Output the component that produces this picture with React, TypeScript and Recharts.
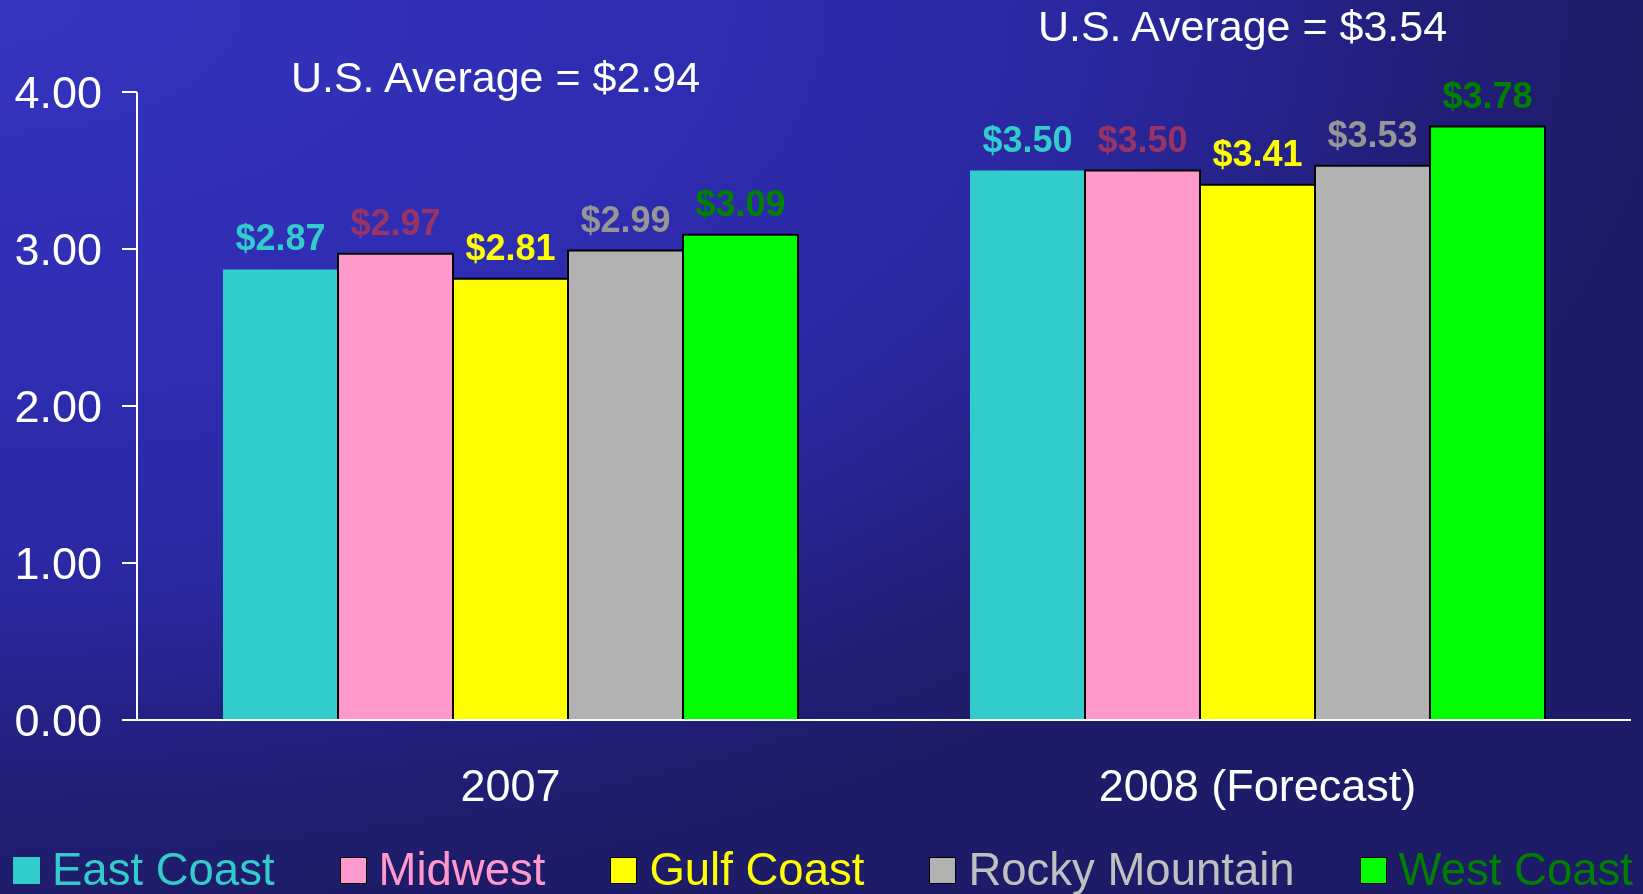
import React from 'react';
import { BarChart, Bar, XAxis, YAxis, LabelList, ReferenceDot } from 'recharts';

const categories = ['2007', '2008 (Forecast)'];
const eastCoast = [2.87, 3.5];
const midwest = [2.97, 3.5];
const gulfCoast = [2.81, 3.41];
const rockyMountain = [2.99, 3.53];
const westCoast = [3.09, 3.78];
const usAverage = [2.94, 3.54];
const yTicks = [0, 1, 2, 3, 4];

const FONT = '"Liberation Sans", Arial, sans-serif';

const series = [
  { key: 'eastCoast', name: 'East Coast', values: eastCoast, fill: '#33CCCC', stroke: 'none', label: '#33CCCC', legend: '#33CCCC' },
  { key: 'midwest', name: 'Midwest', values: midwest, fill: '#FF99CC', stroke: '#000', label: '#993366', legend: '#FF99CC' },
  { key: 'gulfCoast', name: 'Gulf Coast', values: gulfCoast, fill: '#FFFF00', stroke: '#000', label: '#FFFF00', legend: '#FFFF00' },
  { key: 'rockyMountain', name: 'Rocky Mountain', values: rockyMountain, fill: '#B2B2B2', stroke: '#000', label: '#969696', legend: '#C0C0C0' },
  { key: 'westCoast', name: 'West Coast', values: westCoast, fill: '#00FF00', stroke: '#000', label: '#008000', legend: '#008000' },
];

const data = categories.map((name, i) => {
  const row: Record<string, string | number> = { name };
  series.forEach((s) => {
    row[s.key] = s.values[i];
  });
  return row;
});

// where the "U.S. Average" captions sit, in axis units (above the plot)
const avgLabelY = [4.095, 4.42];

const money = (v: any) => `$${Number(v).toFixed(2)}`;

const Legend = () => (
  <div
    style={{
      position: 'absolute',
      left: 13,
      top: 846,
      display: 'flex',
      alignItems: 'center',
      fontFamily: FONT,
      fontSize: 45.5,
      lineHeight: '48px',
    }}
  >
    {series.map((s) => (
      <div key={s.key} style={{ display: 'flex', alignItems: 'center', marginRight: 65 }}>
        <div
          style={{
            width: s.stroke === 'none' ? 27 : 25,
            height: s.stroke === 'none' ? 27 : 25,
            background: s.fill,
            border: s.stroke === 'none' ? 'none' : '1px solid #000',
            marginRight: 12,
          }}
        />
        <span style={{ color: s.legend, whiteSpace: 'nowrap' }}>{s.name}</span>
      </div>
    ))}
  </div>
);

export default function App() {
  return (
    <div
      style={{
        position: 'fixed',
        left: 0,
        top: 0,
        width: 1643,
        height: 894,
        overflow: 'hidden',
        background:
          'radial-gradient(ellipse farthest-corner at 0% 0%, #3434C0 0%, #2E2CB0 30%, #2A28A0 47%, #211E78 62%, #1E1C68 72%, #1D1B68 100%)',
      }}
    >
      <BarChart
        width={1643}
        height={894}
        data={data}
        margin={{ top: 92, right: 12, left: 0, bottom: 94 }}
        barGap={0}
        barCategoryGap={86}
      >
        <XAxis
          dataKey="name"
          height={80}
          axisLine={{ stroke: '#fff', strokeWidth: 2 }}
          tickLine={false}
          tickSize={0}
          tickMargin={49}
          tick={{ fill: '#fff', fontSize: 45, fontFamily: FONT }}
        />
        <YAxis
          width={137}
          domain={[0, 4]}
          ticks={yTicks}
          tickFormatter={(v) => Number(v).toFixed(2)}
          axisLine={{ stroke: '#fff', strokeWidth: 2 }}
          tickLine={{ stroke: '#fff', strokeWidth: 2 }}
          tickSize={15}
          tickMargin={20}
          tick={{ fill: '#fff', fontSize: 45, fontFamily: FONT }}
        />
        {series.map((s) => (
          <Bar
            key={s.key}
            dataKey={s.key}
            fill={s.fill}
            stroke={s.stroke}
            strokeWidth={2}
            isAnimationActive={false}
          >
            <LabelList
              dataKey={s.key}
              position="top"
              offset={19}
              formatter={money}
              fill={s.label}
              fontSize={36}
              fontWeight="bold"
              fontFamily={FONT}
            />
          </Bar>
        ))}
        {categories.map((c, i) => (
          <ReferenceDot
            key={c}
            x={c}
            y={avgLabelY[i]}
            r={0}
            ifOverflow="visible"
            label={{
              value: `U.S. Average = ${money(usAverage[i])}`,
              position: 'center',
              fill: '#fff',
              fontSize: 43,
              fontFamily: FONT,
              dx: -15,
            }}
          />
        ))}
      </BarChart>
      <Legend />
    </div>
  );
}
